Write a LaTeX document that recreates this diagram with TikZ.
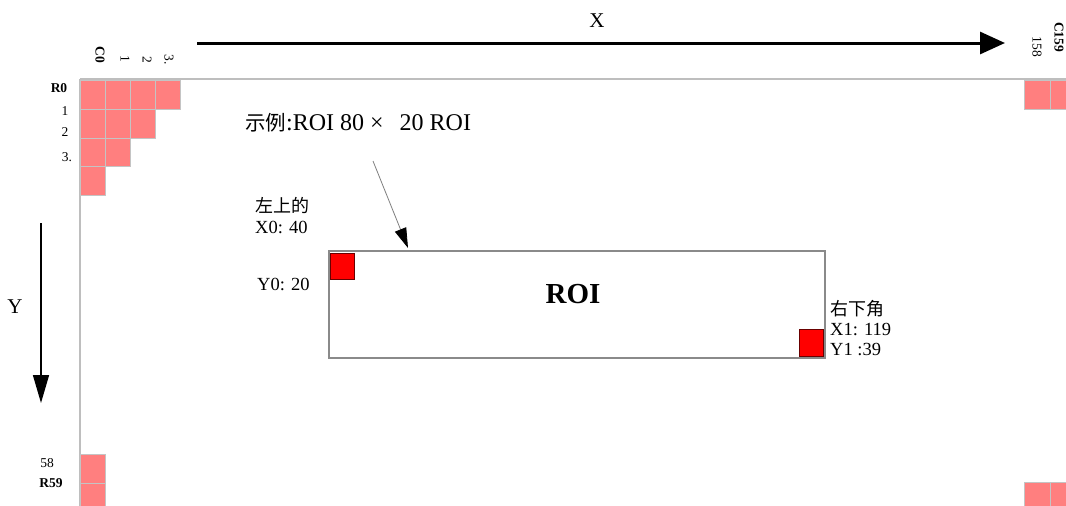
\documentclass[tikz,border=0pt]{standalone}
\usepackage{fontspec}
\setmainfont{Liberation Serif}
\newfontfamily\cjk{Noto Sans CJK SC}
\usetikzlibrary{arrows.meta}
\definecolor{cellpink}{HTML}{FF7F7F}
\definecolor{cellgrid}{HTML}{C4C4C4}
\definecolor{framegray}{HTML}{BEBEBE}
\definecolor{roigray}{HTML}{8A8A8A}
\definecolor{darkred}{HTML}{6A0000}
\tikzset{
  cell/.style={fill=cellpink,draw=cellgrid,line width=1pt},
  redsq/.style={fill=red,draw=darkred,line width=1.4pt},
  lbl/.style={inner sep=0pt,font=\fontsize{13.5}{13.5}\selectfont},
  blbl/.style={inner sep=0pt,font=\fontsize{13.5}{13.5}\selectfont\bfseries},
  txt/.style={inner sep=0pt,anchor=west,font=\fontsize{18.5}{18.5}\selectfont},
  axis/.style={inner sep=0pt,font=\fontsize{21}{21}\selectfont}
}
\begin{document}
\begin{tikzpicture}[x=1pt,y=-1pt]
\useasboundingbox (0,0) rectangle (1066,506);
\fill[white] (0,0) rectangle (1066,506);
\begin{scope}
\clip (0,0) rectangle (1066,506);
% frame
\draw[framegray,line width=2.5pt] (80,79) -- (1070,79);
\draw[framegray,line width=2pt] (80,79) -- (80,510);
% top-left cells
\foreach \c in {0,1,2,3} \draw[cell] (80+25*\c,80) rectangle ++(25,29);
\foreach \c in {0,1,2} \draw[cell] (80+25*\c,109) rectangle ++(25,29);
\foreach \c in {0,1} \draw[cell] (80+25*\c,138) rectangle ++(25,28);
\draw[cell] (80,166) rectangle ++(25,29);
% bottom-left
\draw[cell] (80,454) rectangle ++(25,29);
\draw[cell] (80,483) rectangle ++(25,29);
% top-right
\draw[cell] (1024,80) rectangle ++(26,29);
\draw[cell] (1050,80) rectangle ++(26,29);
% bottom-right
\draw[cell] (1024,482) rectangle ++(26,29);
\draw[cell] (1050,482) rectangle ++(26,29);
\end{scope}
% column labels
\node[blbl,rotate=-90] (c0) at (100,55) {C0};
\node[lbl,rotate=-90] (c1) at (125,59) {1};
\node[lbl,rotate=-90] (c2) at (147,60) {2};
\node[lbl,rotate=-90] (c3) at (169,60) {3.};
\node[blbl,rotate=-90] (c159) at (1059,37) {C159};
\node[lbl,rotate=-90] (c158) at (1037,47) {158};
% row labels
\node[blbl] (r0) at (59,88) {R0};
\node[lbl] (r1) at (65,111) {1};
\node[lbl] (r2) at (65,132) {2};
\node[lbl] (r3) at (67,157) {3.};
\node[lbl] (r58) at (47,463) {58};
\node[blbl] (r59) at (51,483) {R59};
% axes
\coordinate (xs) at (197,43);
\coordinate (xe) at (1005,43);
\draw[line width=3pt,-{Triangle[length=25pt,width=22pt]}] (xs) -- (xe);
\node[axis] (xl) at (597,21) {X};
\coordinate (ys) at (41,223);
\coordinate (ye) at (41,403);
\draw[line width=1.5pt,-{Triangle[length=28pt,width=16pt]}] (ys) -- (ye);
\node[axis] (yl) at (15,307) {Y};
% caption
\node[inner sep=0pt,anchor=base west,font=\fontsize{24}{24}\selectfont] (cap) at (245,130)
  {{\cjk\fontsize{20.5}{20.5}\selectfont 示例}:ROI 80 ×\hspace{16pt}20 ROI};
% ROI box
\node[draw=roigray,line width=2pt,minimum width=496pt,minimum height=107pt,inner sep=0pt] (roi) at (577,304.5) {};
\node[inner sep=0pt,font=\fontsize{29}{29}\selectfont\bfseries] (roit) at (573,294) {ROI};
\node[redsq,minimum width=24pt,minimum height=26pt,inner sep=0pt,anchor=north west] (tl) at (330,253) {};
\node[redsq,minimum width=24pt,minimum height=27pt,inner sep=0pt,anchor=south east] (br) at (824,357) {};
% pointer arrow
\coordinate (ps) at (373,161);
\coordinate (pe) at (408,248);
\draw[gray,line width=0.8pt,-{Triangle[length=20pt,width=12pt,color=black]}] (ps) -- (pe);
% corner labels
\node[txt] (tl1) at (255,205) {\cjk\fontsize{18}{18}\selectfont 左上的};
\node[txt] (tl2) at (255,227) {X0: 40};
\node[txt] (tl3) at (257,284) {Y0: 20};
\node[txt] (br1) at (830,309) {\cjk\fontsize{18}{18}\selectfont 右下角};
\node[txt] (br2) at (830,330) {X1: 119};
\node[txt] (br3) at (830,350) {Y1 :39};
\end{tikzpicture}
\end{document}
